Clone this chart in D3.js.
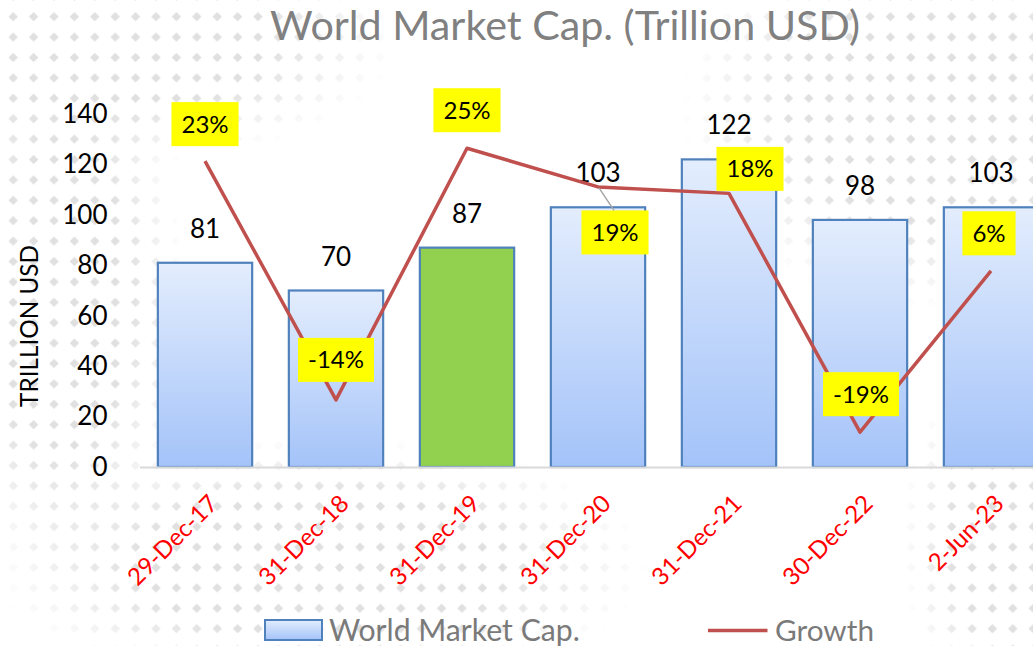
<!DOCTYPE html>
<html><head><meta charset="utf-8">
<script src="https://cdn.jsdelivr.net/npm/d3@7"></script>
<style>
html,body{margin:0;padding:0;background:#fff;overflow:hidden}
svg{display:block;font-family:Lato,"Open Sans",sans-serif}
</style>
</head><body>
<svg id="chart" width="1033" height="646"></svg>
<script>
// ---- data ----
const categories = ["29-Dec-17","31-Dec-18","31-Dec-19","31-Dec-20","31-Dec-21","30-Dec-22","2-Jun-23"];
const marketCap = [81, 70, 87, 103, 122, 98, 103];
const growth = [23, -14, 25, 19, 18, -19, 6];
const yTicks = [0, 20, 40, 60, 80, 100, 120, 140];
const highlightCategory = "31-Dec-19";
const titleText = "World Market Cap. (Trillion USD)";
const yTitle = "TRILLION USD";
const seriesNames = ["World Market Cap.", "Growth"];

// ---- layout ----
const W = 1033, H = 646;
const plot = {left: 139.5, right: 1056.5, top: 114, bottom: 467};
const growthLabelShift = [[0,-37],[0,-40],[0,-38],[17,45.5],[21,-24.5],[1,-38],[-2,-37.5]];
const growthLabelLeader = [false,false,false,true,false,false,false];
const texRegions = [
  {cx:110, cy:40, rx:290, ry:125},
  {cx:60, cy:300, rx:125, ry:280},
  {cx:320, cy:565, rx:330, ry:130},
  {cx:930, cy:110, rx:250, ry:200},
  {cx:1015, cy:540, rx:115, ry:190}
];

const svg = d3.select("#chart");
const defs = svg.append("defs");

// background diamond texture
const pat = defs.append("pattern").attr("id","dots").attr("patternUnits","userSpaceOnUse")
  .attr("x",3).attr("y",6.5).attr("width",20.4).attr("height",20.4);
pat.append("path").attr("d","M10.2,5.5 L14.9,10.2 L10.2,14.9 L5.5,10.2Z").attr("fill","#e0e0e0");
const rg = defs.append("radialGradient").attr("id","fade");
rg.append("stop").attr("offset","0.55").attr("stop-color","#fff").attr("stop-opacity",1);
rg.append("stop").attr("offset","1").attr("stop-color","#fff").attr("stop-opacity",0);
const mask = defs.append("mask").attr("id","texMask").attr("maskUnits","userSpaceOnUse")
  .attr("x",0).attr("y",0).attr("width",W).attr("height",H);
mask.selectAll("ellipse").data(texRegions).join("ellipse")
  .attr("cx",d=>d.cx).attr("cy",d=>d.cy).attr("rx",d=>d.rx).attr("ry",d=>d.ry)
  .attr("fill","url(#fade)");
svg.append("rect").attr("width",W).attr("height",H).attr("fill","url(#dots)").attr("mask","url(#texMask)");

// bar gradient
const bg = defs.append("linearGradient").attr("id","barGrad").attr("x1",0).attr("y1",0).attr("x2",0).attr("y2",1);
bg.append("stop").attr("offset","0").attr("stop-color","#e3edfd");
bg.append("stop").attr("offset","1").attr("stop-color","#a4c3f9");

function fit(sel, target){
  sel.each(function(){
    const len = this.getComputedTextLength();
    const fs = parseFloat(this.getAttribute("font-size"));
    if (len > 0) this.setAttribute("font-size", fs * target / len);
  });
}

// scales
const x = d3.scaleBand().domain(categories).range([plot.left, plot.right]).paddingInner(0.28).paddingOuter(0.14);
const y = d3.scaleLinear().domain([0,140]).range([plot.bottom, plot.top]);
const y2 = d3.scaleLinear().domain([-24.4, 30.3]).range([plot.bottom, plot.top]);
const cx = c => x(c) + x.bandwidth()/2;

// title
svg.append("text").attr("x",565).attr("y",40).attr("text-anchor","middle")
  .attr("font-size",36).attr("fill","#808080").text(titleText).call(fit, 590);

// y axis
const yAxis = svg.append("g").attr("transform",`translate(${plot.left},0)`)
  .call(d3.axisLeft(y).tickValues(yTicks).tickSize(0).tickPadding(32));
yAxis.select(".domain").remove();
yAxis.selectAll("text").attr("font-size",26).attr("fill","#000").attr("font-family","Lato");

// y title
svg.append("text").attr("transform","translate(38,326) rotate(-90)").attr("text-anchor","middle")
  .attr("font-size",22).attr("fill","#000").text(yTitle).call(fit, 162);

// bars
svg.append("g").selectAll("rect").data(categories).join("rect")
  .attr("x", c => x(c)).attr("width", x.bandwidth())
  .attr("y", (c,i) => y(marketCap[i])).attr("height", (c,i) => y(0) - y(marketCap[i]))
  .attr("fill", c => c === highlightCategory ? "#92d050" : "url(#barGrad)")
  .attr("stroke","#4f81bd").attr("stroke-width",2.2);

// x axis
const xAxis = svg.append("g").attr("transform",`translate(0,${plot.bottom})`)
  .call(d3.axisBottom(x).tickSize(0).tickSizeOuter(0));
xAxis.select(".domain").attr("stroke","#d9d9d9").attr("stroke-width",2);
const xt = xAxis.selectAll("text").attr("font-size",21).attr("fill","#ff0000").attr("font-family","Lato")
  .attr("text-anchor","end").attr("x",0).attr("y",0).attr("dy",0)
  .attr("transform","translate(14.5,38) rotate(-45)");
{
  const first = xt.nodes()[0];
  const k = 116 / first.getComputedTextLength();
  xt.attr("font-size", 21 * k);
}

// value labels
svg.append("g").selectAll("text").data(categories).join("text")
  .attr("x", cx).attr("y", (c,i) => y(marketCap[i]) - 34).attr("dy","0.35em")
  .attr("text-anchor","middle").attr("font-size",26).attr("fill","#000")
  .text((c,i) => marketCap[i]);

// growth line
const line = d3.line().x((d,i) => cx(categories[i])).y(d => y2(d));
svg.append("path").datum(growth).attr("d", line).attr("fill","none")
  .attr("stroke","#c0504d").attr("stroke-width",3.5).attr("stroke-linejoin","round");

// growth labels
const gl = svg.append("g").selectAll("g").data(growth).join("g")
  .attr("transform",(d,i) => `translate(${cx(categories[i]) + growthLabelShift[i][0]},${y2(d) + growthLabelShift[i][1]})`);
gl.each(function(d,i){
  const g = d3.select(this);
  const t = g.append("text").attr("text-anchor","middle").attr("dy","0.35em")
    .attr("font-size",24).attr("fill","#000").text(d + "%");
  const w = t.node().getComputedTextLength() + 20;
  g.insert("rect","text").attr("x",-w/2).attr("y",-22).attr("width",w).attr("height",44).attr("fill","#ffff00");
});
// leader lines
svg.append("g").selectAll("line").data(growth.map((d,i)=>({d,i})).filter(o=>growthLabelLeader[o.i])).join("line")
  .attr("x1", o => cx(categories[o.i]) + 1).attr("y1", o => y2(o.d) + 1)
  .attr("x2", o => cx(categories[o.i]) + growthLabelShift[o.i][0] - 1)
  .attr("y2", o => y2(o.d) + growthLabelShift[o.i][1] - 22)
  .attr("stroke","#a6a6a6").attr("stroke-width",1.5);

// legend
const lg = svg.append("g");
lg.append("rect").attr("x",265).attr("y",620).attr("width",57).attr("height",20)
  .attr("fill","url(#barGrad)").attr("stroke","#4f81bd").attr("stroke-width",2);
lg.append("text").attr("x",329).attr("y",641).attr("font-size",28).attr("fill","#7a7a7a")
  .text(seriesNames[0]).call(fit, 251);
lg.append("line").attr("x1",708).attr("x2",767.5).attr("y1",630.5).attr("y2",630.5)
  .attr("stroke","#c0504d").attr("stroke-width",3.5);
lg.append("text").attr("x",775).attr("y",641).attr("font-size",28).attr("fill","#7a7a7a")
  .text(seriesNames[1]).call(fit, 99);
</script>
</body></html>
